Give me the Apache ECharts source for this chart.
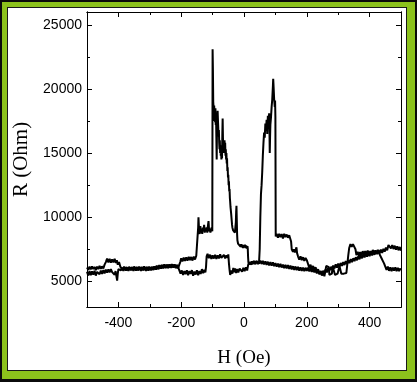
<!DOCTYPE html>
<html>
<head>
<meta charset="utf-8">
<script src="https://cdn.jsdelivr.net/npm/echarts@6/dist/echarts.min.js"></script>
<style>
  html, body { margin: 0; padding: 0; background: #0b0b0b; }
  #frame { position: absolute; left: 2px; top: 2px; width: 413px; height: 377px; background: #8cc21c; }
  #inner { position: absolute; left: 7px; top: 7px; width: 398px; height: 362px; background: #fff; border: 1px solid #1a1a1a; }
  #main { position: absolute; left: 0; top: 0; width: 417px; height: 382px; }
</style>
</head>
<body>
<div id="frame"></div>
<div id="inner"></div>
<div id="main"></div>
<script>
// field sweep down (+500 -> -500), listed by increasing H: [H (Oe), R (Ohm)]
const sweepDown = [
  [-500, 6080], [-496, 5900], [-492, 6150], [-488, 5930], [-484, 6170], [-480, 5960],
  [-476, 6120], [-472, 5880], [-468, 6150], [-464, 5950], [-460, 6200], [-456, 5980],
  [-452, 6170], [-448, 6000], [-444, 6300], [-440, 6500], [-436, 6780], [-432, 6480],
  [-428, 6750], [-424, 6450], [-420, 6720], [-416, 6480], [-412, 6760], [-408, 6430],
  [-405, 6650], [-402, 6300], [-398, 6500], [-394, 6150], [-390, 6100], [-386, 5880],
  [-382, 6150], [-378, 5900], [-374, 6120], [-370, 5850], [-366, 6140], [-362, 5900],
  [-358, 6110], [-354, 5880], [-350, 6160], [-346, 5900], [-342, 6120], [-338, 5860],
  [-334, 6150], [-330, 5910], [-326, 6120], [-322, 5880], [-318, 6170], [-314, 5920],
  [-310, 6130], [-306, 5870], [-302, 6150], [-298, 5910], [-294, 6120], [-290, 5890],
  [-286, 6170], [-282, 5940], [-278, 6220], [-274, 5980], [-270, 6260], [-266, 6010],
  [-262, 6280], [-258, 6030], [-254, 6320], [-250, 6050], [-246, 6300], [-242, 6020],
  [-238, 6330], [-234, 6070], [-230, 6350], [-226, 6080], [-222, 6320], [-218, 6040],
  [-214, 6280], [-210, 6010], [-206, 6300], [-203, 6500], [-200, 6800], [-196, 6560],
  [-192, 6850], [-188, 6600], [-184, 6880], [-180, 6620], [-176, 6920], [-172, 6650],
  [-168, 6900], [-164, 6620], [-160, 6930], [-156, 6700], [-152, 7000], [-148, 7100],
  [-146, 9200], [-145, 10000], [-143, 8900], [-141, 8700], [-139, 9300], [-137, 8800],
  [-135, 9100], [-133, 8700], [-131, 9200], [-129, 8900], [-127, 9400], [-125, 8800],
  [-123, 9100], [-121, 8900], [-119, 9200], [-117, 8800], [-115, 9300], [-113, 9700],
  [-111, 8900], [-109, 9100], [-107, 8800], [-105, 9000], [-103, 9200], [-101, 8900],
  [-100, 23100], [-99, 21500], [-98, 19000], [-97, 18600], [-96, 17500], [-95, 18700],
  [-94, 18000], [-93, 18400], [-92, 17400], [-91, 18500], [-90, 17200], [-89, 17900],
  [-88, 16200], [-87, 14500], [-86, 16800], [-85, 17800], [-84, 18300], [-83, 17600],
  [-82, 17000], [-81, 16300], [-80, 16800], [-79, 15800], [-78, 15300], [-77, 16000],
  [-76, 15000], [-75, 15600], [-74, 14800], [-73, 15200], [-72, 14500], [-71, 15100],
  [-70, 14600], [-69, 16500], [-68, 17700], [-67, 16200], [-66, 15300], [-65, 15900],
  [-64, 15000], [-63, 15800], [-62, 16000], [-61, 15200], [-60, 15800], [-59, 14800],
  [-58, 15300], [-57, 14500], [-56, 15000], [-55, 14200], [-54, 14600], [-53, 13600],
  [-52, 13900], [-51, 13100], [-50, 13300], [-49, 12500], [-48, 12800], [-47, 12000],
  [-46, 12200], [-45, 11500], [-44, 11200], [-43, 10800], [-42, 10900], [-41, 10300],
  [-40, 10000], [-39, 9700], [-38, 9400], [-37, 9200], [-36, 9300], [-35, 9000],
  [-34, 9100], [-33, 8900], [-31, 9000], [-29, 8800], [-27, 8900], [-26, 9600],
  [-25, 10400], [-24, 10900], [-23, 9800], [-22, 8700], [-21, 8200], [-19, 7950],
  [-17, 8100], [-15, 7800], [-13, 8000], [-11, 7700], [-9, 7900], [-7, 7650],
  [-5, 7850], [-3, 7600], [-1, 7820], [1, 7650], [3, 7850], [5, 7600],
  [7, 7800], [9, 7550], [11, 7750], [12, 7550], [13, 6900], [14, 6500],
  [16, 6400], [20, 6580], [24, 6320], [28, 6560], [32, 6620], [36, 6350],
  [40, 6580], [44, 6680], [48, 6380], [52, 6620], [56, 6350], [60, 6600],
  [64, 6330], [68, 6560], [72, 6280], [76, 6530], [80, 6250], [84, 6500],
  [88, 6230], [92, 6480], [96, 6190], [100, 6430], [104, 6150], [108, 6380],
  [112, 6110], [116, 6360], [120, 6080], [124, 6310], [128, 6030], [132, 6280],
  [136, 6000], [140, 6260], [144, 5970], [148, 6230], [152, 5930], [156, 6180],
  [160, 5900], [164, 6160], [168, 5870], [172, 6130], [176, 5840], [180, 6100],
  [184, 5820], [188, 6080], [192, 5800], [196, 6060], [200, 5820], [204, 6060],
  [208, 5770], [212, 6030], [216, 5740], [220, 5980], [224, 5700], [228, 5930],
  [232, 5620], [236, 5860], [240, 5570], [244, 5800], [248, 5540], [252, 5830],
  [256, 5620], [260, 5930], [264, 5700], [268, 6030], [272, 5800], [276, 6130],
  [280, 5900], [284, 6230], [288, 6000], [292, 6330], [296, 6070], [300, 6380],
  [304, 6140], [308, 6430], [312, 6200], [316, 6500], [320, 6270], [324, 6580],
  [328, 6340], [332, 6660], [336, 6420], [340, 6730], [344, 6500], [348, 6800],
  [352, 6570], [356, 6880], [360, 6640], [364, 6960], [368, 6720], [372, 7030],
  [376, 6800], [380, 7100], [384, 6870], [388, 7180], [392, 6920], [396, 7230],
  [400, 6970], [404, 7280], [408, 7020], [412, 7330], [416, 7070], [420, 7380],
  [424, 7120], [428, 7430], [432, 7170], [436, 7480], [440, 7220], [444, 7530],
  [448, 7320], [452, 7630], [456, 7420], [460, 7830], [464, 7900], [468, 7570],
  [472, 7830], [476, 7520], [480, 7780], [484, 7470], [488, 7730], [492, 7420],
  [496, 7680], [500, 7400]
];

// field sweep up (-500 -> +500)
const sweepUp = [
  [-500, 5750], [-496, 5450], [-492, 5800], [-488, 5480], [-484, 5780], [-480, 5520],
  [-476, 5830], [-472, 5450], [-468, 5740], [-464, 5860], [-460, 5550], [-456, 5840],
  [-452, 5580], [-448, 5880], [-444, 5620], [-440, 5910], [-436, 5680], [-432, 5940],
  [-428, 5700], [-424, 5960], [-420, 5720], [-416, 5780], [-412, 5520], [-409, 5800],
  [-406, 5350], [-404, 5050], [-402, 5600], [-400, 5950], [-396, 6100], [-392, 5850],
  [-388, 6080], [-384, 5820], [-380, 6100], [-376, 5840], [-372, 6070], [-368, 5810],
  [-364, 6090], [-360, 5850], [-356, 6110], [-352, 5820], [-348, 6080], [-344, 5840],
  [-340, 6120], [-336, 5860], [-332, 6080], [-328, 5820], [-324, 6100], [-320, 5860],
  [-316, 6080], [-312, 5810], [-308, 6110], [-304, 5840], [-300, 6080], [-296, 5860],
  [-292, 6130], [-288, 5890], [-284, 6160], [-280, 5920], [-276, 6180], [-272, 5940],
  [-268, 6230], [-264, 5990], [-260, 6260], [-256, 6020], [-252, 6280], [-248, 6040],
  [-244, 6310], [-240, 6060], [-236, 6300], [-232, 6040], [-228, 6330], [-224, 6070],
  [-220, 6300], [-216, 6040], [-212, 6260], [-208, 5990], [-205, 5900], [-202, 5600],
  [-198, 5850], [-194, 5500], [-190, 5800], [-186, 5560], [-182, 5860], [-178, 5480],
  [-174, 5800], [-170, 5580], [-166, 5870], [-162, 5430], [-158, 5760], [-154, 5530],
  [-150, 5860], [-146, 5480], [-142, 5800], [-138, 5580], [-134, 5950], [-130, 5640],
  [-126, 5900], [-123, 5700], [-121, 6100], [-119, 6950], [-116, 7150], [-112, 6800],
  [-108, 7080], [-104, 6750], [-100, 7020], [-96, 6780], [-92, 7070], [-88, 6750],
  [-84, 7020], [-80, 6790], [-76, 7100], [-72, 6830], [-68, 6750], [-64, 7060],
  [-60, 6790], [-56, 7020], [-52, 6830], [-50, 7100], [-48, 6400], [-46, 5900],
  [-44, 5500], [-42, 5350], [-40, 5850], [-37, 5600], [-34, 6050], [-31, 5700],
  [-28, 6000], [-25, 5650], [-22, 5950], [-18, 5700], [-14, 6000], [-10, 6050],
  [-6, 5750], [-2, 6050], [2, 5800], [6, 6100], [10, 5850], [13, 6250],
  [16, 6500], [20, 6300], [24, 6560], [28, 6340], [32, 6600], [36, 6400],
  [40, 6580], [44, 6350], [48, 6520], [50, 7500], [52, 10000], [54, 11800],
  [56, 12500], [58, 13500], [60, 14800], [62, 15800], [64, 16600], [66, 16200],
  [68, 17300], [70, 16800], [72, 17600], [74, 16500], [76, 17900], [78, 17100],
  [80, 18100], [81, 16900], [82, 15000], [83, 16200], [84, 17200], [86, 17800],
  [88, 18600], [90, 19200], [92, 20200], [93, 20800], [94, 20300], [96, 19200],
  [98, 18600], [99, 19100], [100, 17800], [101, 8500], [104, 8700], [108, 8400],
  [112, 8700], [116, 8450], [120, 8680], [124, 8350], [128, 8700], [132, 8450],
  [136, 8650], [140, 8400], [144, 8600], [148, 8650], [150, 8100], [152, 7500],
  [156, 7300], [159, 7500], [162, 7250], [165, 7350], [167, 7650], [169, 7200],
  [172, 6950], [176, 6700], [180, 6950], [184, 6650], [188, 6880], [192, 6600],
  [196, 6820], [200, 6650], [204, 6350], [208, 6050], [212, 6300], [216, 5950],
  [220, 6200], [224, 5900], [228, 6100], [232, 5750], [236, 5950], [240, 5550],
  [244, 5800], [248, 5450], [252, 5700], [256, 5400], [260, 5550], [262, 6200],
  [266, 6300], [270, 6100], [272, 5500], [276, 5400], [280, 5600], [282, 6200],
  [285, 6300], [288, 6200], [290, 5500], [294, 5400], [298, 5600], [302, 5500],
  [304, 6200], [307, 6300], [310, 5600], [314, 5450], [318, 5600], [322, 5500],
  [326, 5650], [330, 5600], [332, 7000], [335, 7600], [339, 7900], [343, 7700],
  [347, 7900], [351, 7750], [355, 7500], [358, 7050], [362, 7300], [366, 7000],
  [370, 7280], [374, 7020], [378, 7350], [382, 7080], [386, 7360], [390, 7120],
  [394, 7400], [398, 7100], [402, 7350], [406, 7130], [410, 7450], [414, 7180],
  [418, 7420], [422, 7150], [426, 7450], [430, 7200], [434, 7100], [438, 6800],
  [442, 6600], [446, 6400], [450, 6150], [454, 5900], [458, 6150], [462, 5820],
  [466, 6100], [470, 5800], [474, 6070], [478, 5830], [482, 6100], [486, 5800],
  [490, 6060], [494, 5800], [498, 6000], [500, 5880]
];

const xMajor = [-400, -200, 0, 200, 400];
const xMinor = [-300, -100, 100, 300];
const yMajor = [5000, 10000, 15000, 20000, 25000];
const yMinor = [7500, 12500, 17500, 22500];

const xRange = { min: -500, max: 500 };
const yRange = { min: 3000, max: 26000 };

const labelFont = { color: "#000", fontSize: 14, fontFamily: "Liberation Sans, Arial" };

function makeAxis(pos, range, ticks, len, withLabels, margin) {
  return {
    type: "value", position: pos, min: range.min, max: range.max,
    splitLine: { show: false },
    axisLine: { show: true, onZero: false, lineStyle: { color: "#000", width: 1 } },
    axisTick: { show: true, inside: true, length: len, customValues: ticks, lineStyle: { color: "#000" } },
    axisLabel: withLabels
      ? Object.assign({ show: true, customValues: ticks, margin: margin, formatter: (v) => String(v) }, labelFont)
      : { show: false }
  };
}

const xMain = makeAxis("bottom", xRange, xMajor, 5, true, 9);
xMain.name = "H (Oe)";
xMain.nameLocation = "middle";
xMain.nameGap = 42;
xMain.nameTextStyle = { color: "#000", fontSize: 19, fontFamily: "Liberation Serif, Times New Roman" };

const yMain = makeAxis("left", yRange, yMajor, 5, true, 5);
yMain.name = "R (Ohm)";
yMain.nameLocation = "middle";
yMain.nameGap = 52;
yMain.nameTextStyle = { color: "#000", fontSize: 21, fontFamily: "Liberation Serif, Times New Roman" };

let option = {
  animation: false,
  grid: { left: 87, right: 16, top: 12, bottom: 75 },
  xAxis: [
    xMain,
    makeAxis("bottom", xRange, xMinor, 3, false),
    makeAxis("top", xRange, xMajor, 5, false),
    makeAxis("top", xRange, xMinor, 3, false)
  ],
  yAxis: [
    yMain,
    makeAxis("left", yRange, yMinor, 3, false),
    makeAxis("right", yRange, yMajor, 5, false),
    makeAxis("right", yRange, yMinor, 3, false)
  ],
  series: [
    {
      type: "line",
      data: sweepDown,
      showSymbol: false,
      lineStyle: { color: "#000", width: 2 }
    },
    {
      type: "line",
      data: sweepUp,
      showSymbol: false,
      lineStyle: { color: "#000", width: 2 }
    }
  ]
};

var myChart = echarts.init(document.getElementById("main"));
myChart.setOption(option);
</script>
</body>
</html>
